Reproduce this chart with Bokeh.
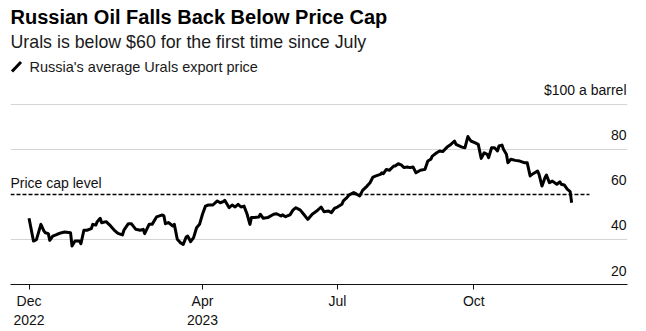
import pandas as pd
from bokeh.plotting import figure
from bokeh.models import Range1d, FixedTicker, Label, Arrow, Grid, ColumnDataSource
from bokeh.core.properties import value
from bokeh.embed import file_html
from bokeh.resources import INLINE

# ---------------- data ----------------
dates = [
    "2022-12-05", "2022-12-08", "2022-12-10", "2022-12-13", "2022-12-15", "2022-12-16",
    "2022-12-18", "2022-12-19", "2022-12-21", "2022-12-24", "2022-12-27", "2022-12-29",
    "2023-01-02", "2023-01-03", "2023-01-05", "2023-01-08", "2023-01-09", "2023-01-11",
    "2023-01-13", "2023-01-16", "2023-01-17", "2023-01-19", "2023-01-20", "2023-01-22",
    "2023-01-23", "2023-01-26", "2023-01-29", "2023-02-01", "2023-02-03", "2023-02-06",
    "2023-02-07", "2023-02-10", "2023-02-12", "2023-02-15", "2023-02-18", "2023-02-20",
    "2023-02-21", "2023-02-24", "2023-02-26", "2023-03-01", "2023-03-05", "2023-03-06",
    "2023-03-07", "2023-03-09", "2023-03-12", "2023-03-13", "2023-03-15", "2023-03-17",
    "2023-03-19", "2023-03-21", "2023-03-22", "2023-03-24", "2023-03-26", "2023-03-28",
    "2023-03-30", "2023-04-01", "2023-04-03", "2023-04-05", "2023-04-08", "2023-04-11",
    "2023-04-13", "2023-04-15", "2023-04-16", "2023-04-19", "2023-04-21", "2023-04-23",
    "2023-04-25", "2023-04-27", "2023-04-29", "2023-05-01", "2023-05-03", "2023-05-04",
    "2023-05-06", "2023-05-09", "2023-05-10", "2023-05-12", "2023-05-15", "2023-05-19",
    "2023-05-21", "2023-05-24", "2023-05-25", "2023-05-27", "2023-05-30", "2023-06-01",
    "2023-06-03", "2023-06-06", "2023-06-08", "2023-06-11", "2023-06-14", "2023-06-17",
    "2023-06-20", "2023-06-22", "2023-06-25", "2023-06-27", "2023-06-29", "2023-07-01",
    "2023-07-04", "2023-07-05", "2023-07-07", "2023-07-09", "2023-07-12", "2023-07-14",
    "2023-07-16", "2023-07-18", "2023-07-21", "2023-07-23", "2023-07-25", "2023-07-27",
    "2023-07-30", "2023-07-31", "2023-08-01", "2023-08-03", "2023-08-05", "2023-08-08",
    "2023-08-09", "2023-08-11", "2023-08-13", "2023-08-15", "2023-08-17", "2023-08-19",
    "2023-08-21", "2023-08-23", "2023-08-26", "2023-08-29", "2023-08-31", "2023-09-02",
    "2023-09-03", "2023-09-06", "2023-09-08", "2023-09-10", "2023-09-13", "2023-09-15",
    "2023-09-18", "2023-09-19", "2023-09-23", "2023-09-25", "2023-09-27", "2023-09-29",
    "2023-10-02", "2023-10-04", "2023-10-06", "2023-10-08", "2023-10-10", "2023-10-11",
    "2023-10-13", "2023-10-15", "2023-10-17", "2023-10-18", "2023-10-20", "2023-10-21",
    "2023-10-23", "2023-10-24", "2023-10-26", "2023-10-29", "2023-11-01", "2023-11-04",
    "2023-11-06", "2023-11-08", "2023-11-10", "2023-11-13", "2023-11-14", "2023-11-16",
    "2023-11-18", "2023-11-19", "2023-11-21", "2023-11-23", "2023-11-26", "2023-11-28",
    "2023-11-29", "2023-12-01", "2023-12-03", "2023-12-05", "2023-12-06",
]
urals = [
    49.4, 39.3, 39.9, 46.7, 43.8, 43.0,
    42.6, 39.6, 41.5, 42.3, 43.0, 43.3,
    43.0, 37.1, 39.3, 39.3, 38.1, 44.1,
    44.1, 44.8, 46.7, 46.4, 47.9, 49.4,
    47.4, 47.9, 46.0, 43.8, 42.7, 42.0,
    44.1, 47.0, 47.0, 44.5, 44.1, 44.5,
    42.6, 46.7, 46.7, 50.0, 50.9, 50.4,
    47.0, 47.5, 46.0, 46.7, 40.1, 38.6,
    37.8, 41.1, 41.5, 39.0, 40.8, 45.2,
    46.7, 51.2, 54.8, 55.3, 55.3, 57.1,
    56.3, 56.8, 57.4, 54.1, 55.3, 54.4,
    55.6, 54.4, 54.8, 51.4, 46.7, 49.7,
    49.7, 50.0, 51.2, 49.4, 49.7, 51.2,
    51.4, 50.4, 50.9, 50.1, 50.9, 53.0,
    54.1, 53.0, 51.4, 48.9, 51.2, 52.6,
    54.4, 52.3, 52.6, 51.9, 53.8, 54.4,
    55.6, 57.1, 58.3, 59.8, 60.8, 60.1,
    59.3, 61.8, 63.7, 65.2, 67.7, 68.2,
    68.9, 69.6, 69.2, 71.1, 70.7, 72.6,
    72.6, 73.6, 73.1, 71.9, 72.2, 71.9,
    72.2, 69.6, 70.7, 71.1, 74.8, 75.6,
    77.0, 78.5, 79.3, 79.0, 81.0, 81.9,
    83.7, 82.2, 81.0, 80.7, 85.7, 83.7,
    82.9, 82.2, 76.0, 78.5, 77.8, 76.3,
    80.7, 80.7, 79.3, 81.5, 81.9, 80.0,
    77.8, 74.1, 75.6, 75.1, 74.8, 74.1,
    74.1, 68.2, 69.2, 70.4, 68.9, 63.7,
    67.4, 68.6, 65.2, 65.9, 64.5, 65.6,
    64.5, 64.2, 62.3, 61.2, 56.3,
]

price_cap = 60
price_cap_end = "2023-12-18"

x_tick_dates = ["2022-12-05", "2023-04-01", "2023-07-01", "2023-10-01"]
x_tick_labels = ["Dec\n2022", "Apr\n2023", "Jul", "Oct"]

grid_values = [40, 80, 100]
y_label_values = [20, 40, 60, 80, 100]
y_label_texts = ["20", "40", "60", "80", "$100 a barrel"]

title = "Russian Oil Falls Back Below Price Cap"
subtitle = "Urals is below $60 for the first time since July"
legend_text = "Russia's average Urals export price"
cap_text = "Price cap level"

# ---------------- style ----------------
FONT = "Liberation Sans"
INK = "#111111"
x_start = pd.Timestamp("2022-11-22 12:00")
x_end = pd.Timestamp("2024-01-12 16:00")

p = figure(width=646, height=331, output_backend="svg", toolbar_location=None,
           x_axis_type="datetime", y_axis_location=None,
           x_range=Range1d(x_start, x_end), y_range=Range1d(20, 146.08),
           min_border_left=10, min_border_right=19, min_border_top=0,
           min_border_bottom=47)
p.outline_line_color = None
p.background_fill_color = "white"
p.border_fill_color = "white"
p.xgrid.visible = False
for g in p.ygrid:
    g.visible = False

p.add_layout(Grid(dimension=1, ticker=FixedTicker(ticks=grid_values),
                  grid_line_color="#d5d5d5", grid_line_width=1))

tick_ms = [float(pd.Timestamp(d).value // 10**6) for d in x_tick_dates]
xa = p.xaxis[0]
xa.ticker = FixedTicker(ticks=tick_ms)
xa.major_label_overrides = {t: lab for t, lab in zip(tick_ms, x_tick_labels)}
xa.axis_line_color = INK
xa.axis_line_width = 1
xa.major_tick_line_color = INK
xa.major_tick_out = 5
xa.major_tick_in = 0
xa.minor_tick_line_color = None
xa.major_label_standoff = 3
xa.major_label_text_font = FONT
xa.major_label_text_font_size = "14px"
xa.major_label_text_color = INK

# price cap
p.segment(x0=[x_start], y0=[price_cap], x1=[pd.Timestamp(price_cap_end)],
          y1=[price_cap], line_color="#000000", line_width=1.5, line_dash="4 2")
p.text(x=[x_start], y=[price_cap], text=[cap_text], text_font=value(FONT),
       text_font_size="14px", text_color=INK, text_baseline="alphabetic",
       text_align="left", y_offset=-11)

# main line
src = ColumnDataSource(dict(date=pd.to_datetime(dates), price=urals))
p.line("date", "price", source=src, line_color="#000000", line_width=3,
       line_join="round")

# y labels on the right
p.text(x=[x_end] * len(y_label_values), y=y_label_values, text=y_label_texts,
       text_font=value(FONT), text_font_size="14px", text_color=INK,
       text_align="right", text_baseline="alphabetic", y_offset=-14, x_offset=-1)

# header (screen units relative to plot frame: left=10px, bottom=284px)
p.add_layout(Label(x=0, y=284 - 16.5, x_units="screen", y_units="screen", text=title,
                   text_font=FONT, text_font_size="20px", text_font_style="bold",
                   text_color="#000000", text_baseline="alphabetic"))
p.add_layout(Label(x=0, y=284 - 41, x_units="screen", y_units="screen", text=subtitle,
                   text_font=FONT, text_font_size="17.8px", text_color="#1a1a1a",
                   text_baseline="alphabetic"))
p.add_layout(Arrow(x_start=1.5, y_start=284 - 71, x_end=10.5, y_end=284 - 61.5,
                   start_units="screen", end_units="screen", end=None,
                   line_width=3, line_color="#000000", line_cap="butt"))
p.add_layout(Label(x=19, y=284 - 66, x_units="screen", y_units="screen", text=legend_text,
                   text_font=FONT, text_font_size="14.5px", text_color="#1a1a1a",
                   text_baseline="alphabetic"))

open("out.html", "w").write(file_html(p, INLINE))
